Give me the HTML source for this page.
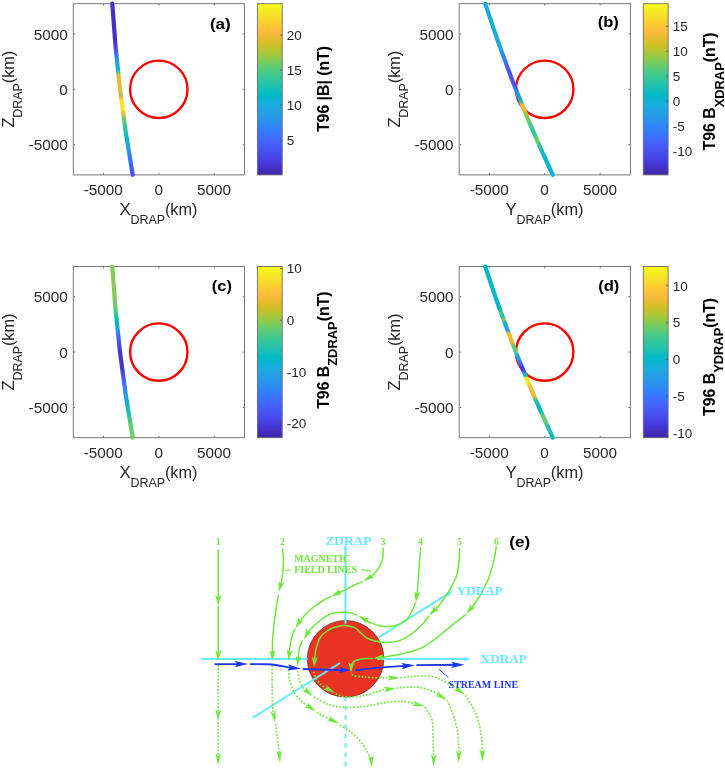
<!DOCTYPE html>
<html lang="en"><head><meta charset="utf-8"><title>T96 field along track</title>
<style>
html,body{margin:0;padding:0;background:#fff}
svg{display:block}
text{font-family:"Liberation Sans",sans-serif;fill:#262626}
.tk{font-size:15.3px}
.ck{font-size:13.5px}
.lb{font-size:16.8px}
.sb{font-size:13.4px}
.cl{font-size:15.8px;font-weight:bold;fill:#000}
.cs{font-size:12.9px}
.lt{font-weight:bold;font-size:15.4px;fill:#000}
.gt{font-family:"Liberation Serif",serif;font-weight:bold;fill:#6ee83c}
.ct{font-family:"Liberation Serif",serif;font-weight:bold;fill:#66ecfc}
.bt{font-family:"Liberation Serif",serif;font-weight:bold;fill:#1c38ee}
</style></head>
<body>
<svg width="725" height="769" viewBox="0 0 725 769">
<defs><linearGradient id="cba" gradientUnits="userSpaceOnUse" x1="0" y1="3.7" x2="0" y2="174.9"><stop offset="0.0000" stop-color="#f9fb15"/><stop offset="0.0312" stop-color="#f6ef20"/><stop offset="0.0625" stop-color="#f5e327"/><stop offset="0.0938" stop-color="#f9d62d"/><stop offset="0.1250" stop-color="#feca33"/><stop offset="0.1562" stop-color="#febe3c"/><stop offset="0.1875" stop-color="#f1ba37"/><stop offset="0.2188" stop-color="#debc2a"/><stop offset="0.2500" stop-color="#c8c129"/><stop offset="0.2812" stop-color="#afc637"/><stop offset="0.3125" stop-color="#94ca4a"/><stop offset="0.3438" stop-color="#77cc60"/><stop offset="0.3750" stop-color="#5ccc76"/><stop offset="0.4062" stop-color="#44ca8a"/><stop offset="0.4375" stop-color="#34c79c"/><stop offset="0.4688" stop-color="#28c2ab"/><stop offset="0.5000" stop-color="#12beb9"/><stop offset="0.5312" stop-color="#01b9c6"/><stop offset="0.5625" stop-color="#0cb3d3"/><stop offset="0.5938" stop-color="#1aacdd"/><stop offset="0.6250" stop-color="#21a3e3"/><stop offset="0.6562" stop-color="#269ae9"/><stop offset="0.6875" stop-color="#2c90f0"/><stop offset="0.7188" stop-color="#2e85f8"/><stop offset="0.7500" stop-color="#347afd"/><stop offset="0.7812" stop-color="#3f6efe"/><stop offset="0.8125" stop-color="#4562fc"/><stop offset="0.8438" stop-color="#4757f7"/><stop offset="0.8750" stop-color="#484cef"/><stop offset="0.9062" stop-color="#4741e5"/><stop offset="0.9375" stop-color="#4536d5"/><stop offset="0.9688" stop-color="#422ebf"/><stop offset="1.0000" stop-color="#3e26a8"/></linearGradient>
<linearGradient id="tra" gradientUnits="userSpaceOnUse" x1="0" y1="3.7" x2="0" y2="174.9"><stop offset="0.0000" stop-color="#4330c5"/><stop offset="0.2100" stop-color="#4330c5"/><stop offset="0.2500" stop-color="#4743e7"/><stop offset="0.2900" stop-color="#4367fd"/><stop offset="0.3300" stop-color="#249fe6"/><stop offset="0.3850" stop-color="#15afd9"/><stop offset="0.4000" stop-color="#48cb86"/><stop offset="0.4200" stop-color="#eaba31"/><stop offset="0.5200" stop-color="#eaba31"/><stop offset="0.5300" stop-color="#8dcb4f"/><stop offset="0.5500" stop-color="#f5ba3a"/><stop offset="0.5700" stop-color="#f5e825"/><stop offset="0.6200" stop-color="#f5e825"/><stop offset="0.6400" stop-color="#f5ba3a"/><stop offset="0.6700" stop-color="#71cd64"/><stop offset="0.7200" stop-color="#33c69d"/><stop offset="0.8000" stop-color="#05b6ce"/><stop offset="0.8500" stop-color="#249fe6"/><stop offset="0.9000" stop-color="#3876fe"/><stop offset="1.0000" stop-color="#484aee"/></linearGradient>
<linearGradient id="cbb" gradientUnits="userSpaceOnUse" x1="0" y1="3.7" x2="0" y2="174.9"><stop offset="0.0000" stop-color="#f9fb15"/><stop offset="0.0312" stop-color="#f6ef20"/><stop offset="0.0625" stop-color="#f5e327"/><stop offset="0.0938" stop-color="#f9d62d"/><stop offset="0.1250" stop-color="#feca33"/><stop offset="0.1562" stop-color="#febe3c"/><stop offset="0.1875" stop-color="#f1ba37"/><stop offset="0.2188" stop-color="#debc2a"/><stop offset="0.2500" stop-color="#c8c129"/><stop offset="0.2812" stop-color="#afc637"/><stop offset="0.3125" stop-color="#94ca4a"/><stop offset="0.3438" stop-color="#77cc60"/><stop offset="0.3750" stop-color="#5ccc76"/><stop offset="0.4062" stop-color="#44ca8a"/><stop offset="0.4375" stop-color="#34c79c"/><stop offset="0.4688" stop-color="#28c2ab"/><stop offset="0.5000" stop-color="#12beb9"/><stop offset="0.5312" stop-color="#01b9c6"/><stop offset="0.5625" stop-color="#0cb3d3"/><stop offset="0.5938" stop-color="#1aacdd"/><stop offset="0.6250" stop-color="#21a3e3"/><stop offset="0.6562" stop-color="#269ae9"/><stop offset="0.6875" stop-color="#2c90f0"/><stop offset="0.7188" stop-color="#2e85f8"/><stop offset="0.7500" stop-color="#347afd"/><stop offset="0.7812" stop-color="#3f6efe"/><stop offset="0.8125" stop-color="#4562fc"/><stop offset="0.8438" stop-color="#4757f7"/><stop offset="0.8750" stop-color="#484cef"/><stop offset="0.9062" stop-color="#4741e5"/><stop offset="0.9375" stop-color="#4536d5"/><stop offset="0.9688" stop-color="#422ebf"/><stop offset="1.0000" stop-color="#3e26a8"/></linearGradient>
<linearGradient id="trb" gradientUnits="userSpaceOnUse" x1="0" y1="3.7" x2="0" y2="174.9"><stop offset="0.0000" stop-color="#19addc"/><stop offset="0.2500" stop-color="#1caadf"/><stop offset="0.3100" stop-color="#2e85f8"/><stop offset="0.3800" stop-color="#4755f6"/><stop offset="0.4700" stop-color="#4755f6"/><stop offset="0.5200" stop-color="#2d8cf3"/><stop offset="0.5600" stop-color="#05b6ce"/><stop offset="0.5800" stop-color="#48cb86"/><stop offset="0.5900" stop-color="#eaba31"/><stop offset="0.6200" stop-color="#eaba31"/><stop offset="0.6350" stop-color="#9fc942"/><stop offset="0.6900" stop-color="#68cd6b"/><stop offset="0.7200" stop-color="#37c898"/><stop offset="0.7700" stop-color="#37c898"/><stop offset="0.7900" stop-color="#68cd6b"/><stop offset="0.8100" stop-color="#58cc79"/><stop offset="0.8500" stop-color="#21c1b0"/><stop offset="0.9000" stop-color="#05b6ce"/><stop offset="1.0000" stop-color="#0ab4d2"/></linearGradient>
<linearGradient id="cbc" gradientUnits="userSpaceOnUse" x1="0" y1="266.5" x2="0" y2="437.7"><stop offset="0.0000" stop-color="#f9fb15"/><stop offset="0.0312" stop-color="#f6ef20"/><stop offset="0.0625" stop-color="#f5e327"/><stop offset="0.0938" stop-color="#f9d62d"/><stop offset="0.1250" stop-color="#feca33"/><stop offset="0.1562" stop-color="#febe3c"/><stop offset="0.1875" stop-color="#f1ba37"/><stop offset="0.2188" stop-color="#debc2a"/><stop offset="0.2500" stop-color="#c8c129"/><stop offset="0.2812" stop-color="#afc637"/><stop offset="0.3125" stop-color="#94ca4a"/><stop offset="0.3438" stop-color="#77cc60"/><stop offset="0.3750" stop-color="#5ccc76"/><stop offset="0.4062" stop-color="#44ca8a"/><stop offset="0.4375" stop-color="#34c79c"/><stop offset="0.4688" stop-color="#28c2ab"/><stop offset="0.5000" stop-color="#12beb9"/><stop offset="0.5312" stop-color="#01b9c6"/><stop offset="0.5625" stop-color="#0cb3d3"/><stop offset="0.5938" stop-color="#1aacdd"/><stop offset="0.6250" stop-color="#21a3e3"/><stop offset="0.6562" stop-color="#269ae9"/><stop offset="0.6875" stop-color="#2c90f0"/><stop offset="0.7188" stop-color="#2e85f8"/><stop offset="0.7500" stop-color="#347afd"/><stop offset="0.7812" stop-color="#3f6efe"/><stop offset="0.8125" stop-color="#4562fc"/><stop offset="0.8438" stop-color="#4757f7"/><stop offset="0.8750" stop-color="#484cef"/><stop offset="0.9062" stop-color="#4741e5"/><stop offset="0.9375" stop-color="#4536d5"/><stop offset="0.9688" stop-color="#422ebf"/><stop offset="1.0000" stop-color="#3e26a8"/></linearGradient>
<linearGradient id="trc" gradientUnits="userSpaceOnUse" x1="0" y1="266.5" x2="0" y2="437.7"><stop offset="0.0000" stop-color="#84cc56"/><stop offset="0.1800" stop-color="#84cc56"/><stop offset="0.2700" stop-color="#48cb86"/><stop offset="0.3100" stop-color="#04bbc2"/><stop offset="0.3600" stop-color="#15afd9"/><stop offset="0.4000" stop-color="#3f6eff"/><stop offset="0.4600" stop-color="#484aee"/><stop offset="0.5000" stop-color="#4433cc"/><stop offset="0.6000" stop-color="#4536d3"/><stop offset="0.6400" stop-color="#4755f6"/><stop offset="0.6900" stop-color="#3f6eff"/><stop offset="0.7500" stop-color="#2699ea"/><stop offset="0.8000" stop-color="#15afd9"/><stop offset="0.8600" stop-color="#21c1b0"/><stop offset="0.9100" stop-color="#58cc79"/><stop offset="1.0000" stop-color="#71cd64"/></linearGradient>
<linearGradient id="cbd" gradientUnits="userSpaceOnUse" x1="0" y1="266.5" x2="0" y2="437.7"><stop offset="0.0000" stop-color="#f9fb15"/><stop offset="0.0312" stop-color="#f6ef20"/><stop offset="0.0625" stop-color="#f5e327"/><stop offset="0.0938" stop-color="#f9d62d"/><stop offset="0.1250" stop-color="#feca33"/><stop offset="0.1562" stop-color="#febe3c"/><stop offset="0.1875" stop-color="#f1ba37"/><stop offset="0.2188" stop-color="#debc2a"/><stop offset="0.2500" stop-color="#c8c129"/><stop offset="0.2812" stop-color="#afc637"/><stop offset="0.3125" stop-color="#94ca4a"/><stop offset="0.3438" stop-color="#77cc60"/><stop offset="0.3750" stop-color="#5ccc76"/><stop offset="0.4062" stop-color="#44ca8a"/><stop offset="0.4375" stop-color="#34c79c"/><stop offset="0.4688" stop-color="#28c2ab"/><stop offset="0.5000" stop-color="#12beb9"/><stop offset="0.5312" stop-color="#01b9c6"/><stop offset="0.5625" stop-color="#0cb3d3"/><stop offset="0.5938" stop-color="#1aacdd"/><stop offset="0.6250" stop-color="#21a3e3"/><stop offset="0.6562" stop-color="#269ae9"/><stop offset="0.6875" stop-color="#2c90f0"/><stop offset="0.7188" stop-color="#2e85f8"/><stop offset="0.7500" stop-color="#347afd"/><stop offset="0.7812" stop-color="#3f6efe"/><stop offset="0.8125" stop-color="#4562fc"/><stop offset="0.8438" stop-color="#4757f7"/><stop offset="0.8750" stop-color="#484cef"/><stop offset="0.9062" stop-color="#4741e5"/><stop offset="0.9375" stop-color="#4536d5"/><stop offset="0.9688" stop-color="#422ebf"/><stop offset="1.0000" stop-color="#3e26a8"/></linearGradient>
<linearGradient id="trd" gradientUnits="userSpaceOnUse" x1="0" y1="266.5" x2="0" y2="437.7"><stop offset="0.0000" stop-color="#01b8ca"/><stop offset="0.2500" stop-color="#01b8ca"/><stop offset="0.2700" stop-color="#48cb86"/><stop offset="0.2900" stop-color="#12beb9"/><stop offset="0.3100" stop-color="#7acc5d"/><stop offset="0.3300" stop-color="#1caadf"/><stop offset="0.3750" stop-color="#20a4e3"/><stop offset="0.3900" stop-color="#eaba31"/><stop offset="0.4400" stop-color="#eaba31"/><stop offset="0.4600" stop-color="#68cd6b"/><stop offset="0.5000" stop-color="#58cc79"/><stop offset="0.5200" stop-color="#1caadf"/><stop offset="0.5600" stop-color="#347afd"/><stop offset="0.5900" stop-color="#4536d3"/><stop offset="0.6100" stop-color="#4743e7"/><stop offset="0.6250" stop-color="#15afd9"/><stop offset="0.6400" stop-color="#12beb9"/><stop offset="0.6500" stop-color="#f5e825"/><stop offset="0.6800" stop-color="#f5e825"/><stop offset="0.7000" stop-color="#f5ba3a"/><stop offset="0.7600" stop-color="#eaba31"/><stop offset="0.7800" stop-color="#2fc5a2"/><stop offset="0.8200" stop-color="#01b8ca"/><stop offset="0.8500" stop-color="#04bbc2"/><stop offset="0.8700" stop-color="#68cd6b"/><stop offset="0.9100" stop-color="#58cc79"/><stop offset="0.9300" stop-color="#2cc4a7"/><stop offset="1.0000" stop-color="#12beb9"/></linearGradient></defs>
<rect width="725" height="769" fill="#fff"/>
<g>
<rect x="73.30" y="3.70" width="171.20" height="171.20" fill="#fff" stroke="#6a6a6a" stroke-width="0.9"/>
<path d="M103.50 174.90v-1.9M103.50 3.70v1.9M73.30 144.70h1.9M244.50 144.70h-1.9M158.90 174.90v-1.9M158.90 3.70v1.9M73.30 89.30h1.9M244.50 89.30h-1.9M214.30 174.90v-1.9M214.30 3.70v1.9M73.30 33.90h1.9M244.50 33.90h-1.9" stroke="#6a6a6a" stroke-width="0.9" fill="none"/>
<text class="tk" x="103.30" y="195.30" text-anchor="middle">-5000</text>
<text class="tk" x="67.70" y="150.30" text-anchor="end">-5000</text>
<text class="tk" x="158.70" y="195.30" text-anchor="middle">0</text>
<text class="tk" x="67.70" y="94.90" text-anchor="end">0</text>
<text class="tk" x="214.10" y="195.30" text-anchor="middle">5000</text>
<text class="tk" x="67.70" y="39.50" text-anchor="end">5000</text>
<text class="lb" y="215.40"><tspan x="119.60">X</tspan><tspan class="sb" x="130.50" dy="8.3" textLength="34.6" lengthAdjust="spacingAndGlyphs">DRAP</tspan><tspan x="164.90" dy="-8.3" textLength="32.6" lengthAdjust="spacingAndGlyphs">(km)</tspan></text>
<text class="lb" transform="translate(13.90 89.30) rotate(-90)" y="0"><tspan x="-38.3">Z</tspan><tspan class="sb" x="-28.4" dy="8.3" textLength="34.6" lengthAdjust="spacingAndGlyphs">DRAP</tspan><tspan x="6.0" dy="-8.3" textLength="32.6" lengthAdjust="spacingAndGlyphs">(km)</tspan></text>
<circle cx="158.80" cy="89.30" r="28.7" fill="none" stroke="#f00" stroke-width="2.4"/>
<path d="M112.30 3.70Q117.50 89.20 132.70 174.80" fill="none" stroke="url(#tra)" stroke-width="4.2" stroke-linecap="round"/>
<text class="lt" x="209.90" y="28.90" textLength="20.9" lengthAdjust="spacingAndGlyphs">(a)</text>
<rect x="257.40" y="3.70" width="24.80" height="171.20" fill="url(#cba)" stroke="#6a6a6a" stroke-width="0.9"/>
<text class="ck" x="286.80" y="144.86">5</text>
<text class="ck" x="286.80" y="109.92">10</text>
<text class="ck" x="286.80" y="74.98">15</text>
<text class="ck" x="286.80" y="40.04">20</text>
<path d="M282.20 139.96h-2.2M282.20 105.02h-2.2M282.20 70.08h-2.2M282.20 35.14h-2.2" stroke="#555" stroke-width="0.8" fill="none"/>
<text class="cl" transform="translate(328.50 89.00) rotate(-90)" text-anchor="middle" x="0" y="0">T96 |B| (nT)</text>
</g>
<g>
<rect x="459.20" y="3.70" width="171.20" height="171.20" fill="#fff" stroke="#6a6a6a" stroke-width="0.9"/>
<path d="M489.40 174.90v-1.9M489.40 3.70v1.9M459.20 144.70h1.9M630.40 144.70h-1.9M544.80 174.90v-1.9M544.80 3.70v1.9M459.20 89.30h1.9M630.40 89.30h-1.9M600.20 174.90v-1.9M600.20 3.70v1.9M459.20 33.90h1.9M630.40 33.90h-1.9" stroke="#6a6a6a" stroke-width="0.9" fill="none"/>
<text class="tk" x="489.20" y="195.30" text-anchor="middle">-5000</text>
<text class="tk" x="453.60" y="150.30" text-anchor="end">-5000</text>
<text class="tk" x="544.60" y="195.30" text-anchor="middle">0</text>
<text class="tk" x="453.60" y="94.90" text-anchor="end">0</text>
<text class="tk" x="600.00" y="195.30" text-anchor="middle">5000</text>
<text class="tk" x="453.60" y="39.50" text-anchor="end">5000</text>
<text class="lb" y="215.40"><tspan x="505.50">Y</tspan><tspan class="sb" x="516.40" dy="8.3" textLength="34.6" lengthAdjust="spacingAndGlyphs">DRAP</tspan><tspan x="550.80" dy="-8.3" textLength="32.6" lengthAdjust="spacingAndGlyphs">(km)</tspan></text>
<text class="lb" transform="translate(399.80 89.30) rotate(-90)" y="0"><tspan x="-38.3">Z</tspan><tspan class="sb" x="-28.4" dy="8.3" textLength="34.6" lengthAdjust="spacingAndGlyphs">DRAP</tspan><tspan x="6.0" dy="-8.3" textLength="32.6" lengthAdjust="spacingAndGlyphs">(km)</tspan></text>
<circle cx="544.70" cy="89.30" r="28.7" fill="none" stroke="#f00" stroke-width="2.4"/>
<path d="M485.20 3.70Q512.70 89.30 552.80 174.90" fill="none" stroke="url(#trb)" stroke-width="4.2" stroke-linecap="round"/>
<text class="lt" x="597.70" y="27.10" textLength="21.2" lengthAdjust="spacingAndGlyphs">(b)</text>
<rect x="643.30" y="3.70" width="24.80" height="171.20" fill="url(#cbb)" stroke="#6a6a6a" stroke-width="0.9"/>
<text class="ck" x="672.70" y="155.88">-10</text>
<text class="ck" x="672.70" y="130.97">-5</text>
<text class="ck" x="672.70" y="106.06">0</text>
<text class="ck" x="672.70" y="81.15">5</text>
<text class="ck" x="672.70" y="56.23">10</text>
<text class="ck" x="672.70" y="31.32">15</text>
<path d="M668.10 150.98h-2.2M668.10 126.07h-2.2M668.10 101.16h-2.2M668.10 76.25h-2.2M668.10 51.33h-2.2M668.10 26.42h-2.2" stroke="#555" stroke-width="0.8" fill="none"/>
<text class="cl" transform="translate(715.20 150.40) rotate(-90)" x="0" y="0">T96 B<tspan class="cs" dy="8.3">XDRAP</tspan><tspan dy="-8.3">(nT)</tspan></text>
</g>
<g>
<rect x="73.30" y="266.50" width="171.20" height="171.20" fill="#fff" stroke="#6a6a6a" stroke-width="0.9"/>
<path d="M103.50 437.70v-1.9M103.50 266.50v1.9M73.30 407.50h1.9M244.50 407.50h-1.9M158.90 437.70v-1.9M158.90 266.50v1.9M73.30 352.10h1.9M244.50 352.10h-1.9M214.30 437.70v-1.9M214.30 266.50v1.9M73.30 296.70h1.9M244.50 296.70h-1.9" stroke="#6a6a6a" stroke-width="0.9" fill="none"/>
<text class="tk" x="103.30" y="458.10" text-anchor="middle">-5000</text>
<text class="tk" x="67.70" y="413.10" text-anchor="end">-5000</text>
<text class="tk" x="158.70" y="458.10" text-anchor="middle">0</text>
<text class="tk" x="67.70" y="357.70" text-anchor="end">0</text>
<text class="tk" x="214.10" y="458.10" text-anchor="middle">5000</text>
<text class="tk" x="67.70" y="302.30" text-anchor="end">5000</text>
<text class="lb" y="478.20"><tspan x="119.60">X</tspan><tspan class="sb" x="130.50" dy="8.3" textLength="34.6" lengthAdjust="spacingAndGlyphs">DRAP</tspan><tspan x="164.90" dy="-8.3" textLength="32.6" lengthAdjust="spacingAndGlyphs">(km)</tspan></text>
<text class="lb" transform="translate(13.90 352.10) rotate(-90)" y="0"><tspan x="-38.3">Z</tspan><tspan class="sb" x="-28.4" dy="8.3" textLength="34.6" lengthAdjust="spacingAndGlyphs">DRAP</tspan><tspan x="6.0" dy="-8.3" textLength="32.6" lengthAdjust="spacingAndGlyphs">(km)</tspan></text>
<circle cx="158.80" cy="352.10" r="28.7" fill="none" stroke="#f00" stroke-width="2.4"/>
<path d="M112.30 266.50Q117.50 352.00 132.70 437.60" fill="none" stroke="url(#trc)" stroke-width="4.2" stroke-linecap="round"/>
<text class="lt" x="211.80" y="290.80" textLength="20.1" lengthAdjust="spacingAndGlyphs">(c)</text>
<rect x="257.40" y="266.50" width="24.80" height="171.20" fill="url(#cbc)" stroke="#6a6a6a" stroke-width="0.9"/>
<text class="ck" x="286.80" y="428.16">-20</text>
<text class="ck" x="286.80" y="376.60">-10</text>
<text class="ck" x="286.80" y="325.03">0</text>
<text class="ck" x="286.80" y="273.46">10</text>
<path d="M282.20 423.26h-2.2M282.20 371.70h-2.2M282.20 320.13h-2.2M282.20 268.56h-2.2" stroke="#555" stroke-width="0.8" fill="none"/>
<text class="cl" transform="translate(329.10 408.80) rotate(-90)" x="0" y="0">T96 B<tspan class="cs" dy="8.3">ZDRAP</tspan><tspan dy="-8.3">(nT)</tspan></text>
</g>
<g>
<rect x="459.20" y="266.50" width="171.20" height="171.20" fill="#fff" stroke="#6a6a6a" stroke-width="0.9"/>
<path d="M489.40 437.70v-1.9M489.40 266.50v1.9M459.20 407.50h1.9M630.40 407.50h-1.9M544.80 437.70v-1.9M544.80 266.50v1.9M459.20 352.10h1.9M630.40 352.10h-1.9M600.20 437.70v-1.9M600.20 266.50v1.9M459.20 296.70h1.9M630.40 296.70h-1.9" stroke="#6a6a6a" stroke-width="0.9" fill="none"/>
<text class="tk" x="489.20" y="458.10" text-anchor="middle">-5000</text>
<text class="tk" x="453.60" y="413.10" text-anchor="end">-5000</text>
<text class="tk" x="544.60" y="458.10" text-anchor="middle">0</text>
<text class="tk" x="453.60" y="357.70" text-anchor="end">0</text>
<text class="tk" x="600.00" y="458.10" text-anchor="middle">5000</text>
<text class="tk" x="453.60" y="302.30" text-anchor="end">5000</text>
<text class="lb" y="478.20"><tspan x="505.50">Y</tspan><tspan class="sb" x="516.40" dy="8.3" textLength="34.6" lengthAdjust="spacingAndGlyphs">DRAP</tspan><tspan x="550.80" dy="-8.3" textLength="32.6" lengthAdjust="spacingAndGlyphs">(km)</tspan></text>
<text class="lb" transform="translate(399.80 352.10) rotate(-90)" y="0"><tspan x="-38.3">Z</tspan><tspan class="sb" x="-28.4" dy="8.3" textLength="34.6" lengthAdjust="spacingAndGlyphs">DRAP</tspan><tspan x="6.0" dy="-8.3" textLength="32.6" lengthAdjust="spacingAndGlyphs">(km)</tspan></text>
<circle cx="544.70" cy="352.10" r="28.7" fill="none" stroke="#f00" stroke-width="2.4"/>
<path d="M485.20 266.50Q512.70 352.10 552.80 437.70" fill="none" stroke="url(#trd)" stroke-width="4.2" stroke-linecap="round"/>
<text class="lt" x="598.20" y="290.80" textLength="21.2" lengthAdjust="spacingAndGlyphs">(d)</text>
<rect x="643.30" y="266.50" width="24.80" height="171.20" fill="url(#cbd)" stroke="#6a6a6a" stroke-width="0.9"/>
<text class="ck" x="672.70" y="438.17">-10</text>
<text class="ck" x="672.70" y="401.28">-5</text>
<text class="ck" x="672.70" y="364.38">0</text>
<text class="ck" x="672.70" y="327.48">5</text>
<text class="ck" x="672.70" y="290.59">10</text>
<path d="M668.10 433.27h-2.2M668.10 396.38h-2.2M668.10 359.48h-2.2M668.10 322.58h-2.2M668.10 285.69h-2.2" stroke="#555" stroke-width="0.8" fill="none"/>
<text class="cl" transform="translate(714.80 415.90) rotate(-90)" x="0" y="0">T96 B<tspan class="cs" dy="8.3">YDRAP</tspan><tspan dy="-8.3">(nT)</tspan></text>
</g>
<g id="schematic">
<circle cx="345.6" cy="658.8" r="38.3" fill="#e93424" stroke="#5c2018" stroke-width="0.7"/>
<path d="M201 659H307.6M377 659H467" stroke="#66ecfc" stroke-width="2.1" fill="none"/>
<path d="M470.6 659.1L464.2 656.9L464.2 661.3Z" fill="#66ecfc"/>
<path d="M345.5 623.6V548" stroke="#66ecfc" stroke-width="2.1" fill="none"/>
<path d="M345.5 543.6L343.5 549.6L347.5 549.6Z" fill="#66ecfc"/>
<path d="M345.5 697.3V769" stroke="#66ecfc" stroke-width="2" stroke-dasharray="4.7 4.67" stroke-dashoffset="1.1" fill="none"/>
<path d="M252.6 717.7L340 663M378.8 637.4L449.5 592.9" stroke="#66ecfc" stroke-width="2" fill="none"/>
<path d="M453 590.7L446.2 592.6L448.6 596.2Z" fill="#66ecfc"/>
<path d="M218.2 549.6L218.2 603.0M218.2 606.0L218.2 658.0M282.5 548.2C282.6 550.9 283.6 558.8 283.4 564.5C283.2 570.2 282.1 578.3 281.4 582.4C280.7 586.5 279.8 588.1 279.4 589.2M278.3 594.8C277.7 599.0 275.4 612.5 274.5 620.0C273.6 627.5 272.9 633.7 272.6 640.0C272.3 646.3 272.5 655.0 272.4 658.0M383.2 547.9C383.1 549.5 383.4 554.4 382.8 557.6C382.2 560.8 381.0 564.2 379.3 567.2C377.6 570.2 374.6 573.5 372.4 575.5C370.2 577.5 367.1 578.8 366.1 579.4M363.0 581.5C362.0 581.9 360.1 582.4 357.2 583.8C354.3 585.1 349.4 587.7 345.5 589.6C341.6 591.5 335.9 594.0 334.0 594.9M331.0 596.5C329.8 597.1 326.9 598.2 323.9 600.0C320.9 601.8 316.3 605.0 313.1 607.5C309.9 610.0 307.2 612.8 304.8 615.3C302.4 617.8 300.3 620.7 299.0 622.4C297.7 624.1 297.3 625.1 296.9 625.6M295.2 628.5C294.9 629.3 293.9 631.0 293.2 633.1C292.5 635.2 291.4 638.6 290.8 641.4C290.2 644.2 289.8 647.0 289.5 649.7C289.2 652.5 289.0 656.4 288.9 657.9C288.8 659.4 288.8 658.4 288.8 658.5M420.7 547.2C420.5 550.1 419.8 558.2 419.3 564.5C418.8 570.8 418.4 579.4 417.9 585.2C417.4 591.0 416.5 597.1 416.2 599.4M415.9 602.4C415.4 603.4 414.4 606.1 413.1 608.6C411.8 611.1 410.2 615.2 408.3 617.6C406.4 620.0 404.1 621.7 401.4 623.1C398.7 624.5 395.5 625.7 392.0 626.2C388.5 626.7 384.0 626.4 380.5 625.9C377.0 625.4 373.8 624.1 371.0 623.0C368.2 621.9 365.7 619.9 364.0 619.0C362.3 618.1 361.6 617.6 361.1 617.3M357.5 615.2C356.2 614.8 352.4 613.3 350.0 612.8C347.6 612.3 346.2 612.0 343.4 612.1C340.6 612.2 335.8 612.5 333.0 613.2C330.2 613.9 328.8 614.7 326.4 616.1C324.0 617.5 321.1 619.8 318.9 621.5C316.7 623.2 315.0 624.6 313.1 626.5C311.2 628.4 308.8 631.2 307.5 633.0C306.2 634.8 305.7 636.4 305.4 637.0M302.5 640.5C302.1 641.5 300.5 644.3 299.9 646.4C299.2 648.5 298.9 650.7 298.6 653.0C298.3 655.3 298.2 658.2 298.1 660.0C298.0 661.8 297.9 662.9 297.8 663.5M459.5 548.0C459.5 549.6 459.8 553.0 459.3 557.6C458.8 562.2 458.4 569.8 456.6 575.5C454.8 581.2 451.3 587.0 448.3 592.1C445.3 597.2 441.5 602.4 438.6 605.9C435.7 609.4 432.4 612.1 431.1 613.4M428.6 616.0C428.2 616.7 428.4 617.5 426.2 620.0C424.0 622.5 418.9 627.9 415.2 631.0C411.5 634.1 407.6 636.8 404.1 638.6C400.7 640.4 398.4 641.2 394.5 641.8C390.6 642.4 385.1 642.6 380.7 642.1C376.3 641.6 371.5 640.2 368.3 638.8C365.1 637.4 363.7 635.4 361.4 633.5C359.1 631.6 357.3 628.9 354.5 627.6C351.7 626.3 347.2 625.8 344.8 625.5C342.4 625.2 342.0 625.7 340.0 626.1C338.0 626.5 335.3 626.8 333.0 627.7C330.7 628.6 328.5 630.0 326.4 631.5C324.3 633.0 322.0 635.1 320.6 637.0C319.2 638.9 318.6 640.8 317.8 643.0C317.0 645.2 316.3 647.7 315.8 650.0C315.3 652.3 315.2 654.6 314.9 657.0C314.6 659.4 314.4 663.3 314.3 664.6M496.3 545.9C496.0 547.9 495.6 552.7 494.5 557.6C493.4 562.5 491.9 569.5 489.7 575.5C487.5 581.5 484.0 588.6 481.4 593.4C478.8 598.2 476.2 601.4 474.0 604.5C471.8 607.6 469.1 610.6 468.1 611.8M466.0 614.4C464.0 616.0 456.8 621.5 453.8 623.8C450.9 626.1 451.5 625.7 448.3 628.3C445.1 630.9 438.9 636.1 434.5 639.3C430.1 642.5 426.5 645.4 422.1 647.6C417.7 649.8 412.9 651.1 408.3 652.4C403.7 653.7 398.5 654.4 394.5 655.2C390.5 656.0 387.2 656.5 384.1 657.0C381.0 657.5 377.4 658.0 376.1 658.2M373.0 658.5C371.7 658.5 367.6 658.4 365.0 658.6C362.4 658.9 359.2 659.4 357.2 660.0C355.2 660.6 353.8 661.5 352.8 662.5C351.8 663.5 351.5 664.7 351.2 666.0C350.9 667.3 351.1 669.4 351.1 670.1" fill="none" stroke="#6ee83c" stroke-width="1.5"/>
<path d="M218.2 664.8L218.2 718.3M218.2 722.0L218.2 762.2M272.0 665.5C272.1 671.7 272.1 694.5 272.4 702.8C272.7 711.0 273.4 712.1 273.8 715.0C274.2 717.9 274.6 719.1 274.7 720.0M275.5 724.0C275.8 725.9 276.5 731.6 277.0 735.4C277.5 739.2 278.1 742.9 278.6 747.0C279.1 751.1 279.5 757.6 279.7 759.7M288.3 669.7C288.5 671.5 288.8 677.0 289.7 680.7C290.6 684.4 292.0 688.4 293.8 691.7C295.6 695.0 298.5 698.1 300.5 700.3C302.5 702.5 303.8 703.4 306.0 705.0C308.2 706.6 312.2 709.1 313.5 709.9M317.0 712.0C317.7 712.5 318.8 713.8 321.4 715.2C324.0 716.6 329.9 719.3 332.4 720.5C334.9 721.7 335.6 722.3 336.3 722.6M340.0 725.0C340.5 725.3 341.4 726.0 343.0 727.0C344.6 728.0 347.5 729.5 349.7 731.2C351.9 732.9 354.2 734.9 356.3 737.0C358.4 739.1 360.4 741.4 362.1 743.6C363.8 745.8 365.2 748.3 366.5 750.3C367.8 752.3 368.8 753.9 369.6 755.5C370.4 757.1 370.9 758.5 371.2 760.0C371.5 761.5 371.4 763.8 371.4 764.6M297.9 671.0C298.1 672.4 298.5 676.5 299.3 679.3C300.1 682.1 300.9 685.0 302.8 687.6C304.7 690.2 309.5 693.5 310.8 694.6M314.0 697.0C314.8 697.4 316.5 698.1 318.6 699.3C320.7 700.4 323.5 702.7 326.5 703.9C329.5 705.1 333.1 705.8 336.4 706.4C339.7 707.0 342.8 707.4 346.4 707.5C350.0 707.6 354.0 707.5 357.9 707.2C361.8 706.9 365.4 706.3 369.5 705.6C373.6 704.9 378.4 703.8 382.8 703.1C387.2 702.4 391.9 701.6 396.0 701.4C400.1 701.2 403.3 701.2 407.6 701.9C411.9 702.6 419.3 704.9 421.6 705.5M425.0 707.0C425.5 707.9 426.9 709.8 428.1 712.2C429.3 714.6 431.5 716.9 432.3 721.3C433.1 725.7 432.9 733.3 433.1 738.7C433.3 744.1 433.5 749.5 433.6 753.6C433.7 757.7 433.6 761.9 433.6 763.5M313.8 671.7C314.3 673.0 315.1 676.9 316.6 679.3C318.1 681.7 320.1 684.1 322.8 686.2C325.5 688.3 330.9 690.7 332.6 691.6M335.8 693.6C336.5 693.9 338.2 695.0 340.0 695.6C341.8 696.2 343.4 696.9 346.4 697.0C349.4 697.1 354.1 697.0 358.0 696.5C361.9 696.0 365.3 695.1 369.5 694.0C373.7 692.9 379.5 690.6 383.4 689.7C387.3 688.8 391.3 688.8 392.9 688.6M396.5 688.2C397.3 688.1 398.3 687.8 401.4 687.6C404.5 687.4 411.1 686.7 415.2 686.9C419.3 687.1 422.8 688.0 426.2 689.0C429.6 690.0 432.9 691.5 435.9 693.1C438.9 694.7 442.9 697.5 444.4 698.4M447.2 700.5C447.4 700.9 447.9 701.0 448.6 702.8C449.4 704.5 450.8 708.6 451.7 711.0C452.6 713.4 452.9 714.1 453.8 717.1C454.7 720.1 456.3 724.6 457.1 728.7C457.9 732.9 458.1 738.4 458.4 742.0C458.7 745.6 458.7 747.3 458.8 750.3C458.9 753.2 458.8 758.1 458.8 759.7M351.7 674.5C352.2 674.7 352.6 675.5 354.5 675.9C356.4 676.3 359.6 676.5 362.8 676.8C366.0 677.1 369.7 677.6 373.8 677.7C377.9 677.9 383.7 677.7 387.6 677.7C391.5 677.7 395.4 677.8 397.0 677.9M400.5 677.8C401.8 677.6 404.7 677.1 408.3 676.8C411.9 676.5 417.7 675.8 422.1 675.9C426.5 676.0 431.1 676.4 434.5 677.2C437.9 678.0 440.1 679.4 442.8 680.7C445.6 682.0 448.7 683.4 451.0 684.8C453.3 686.2 454.7 687.6 456.6 689.0C458.5 690.4 461.5 692.3 462.5 692.9M465.5 695.2C465.9 695.9 467.0 697.6 468.1 699.5C469.2 701.4 471.0 704.4 472.2 706.5C473.4 708.6 474.1 709.1 475.3 712.2C476.5 715.4 478.5 721.0 479.5 725.4C480.5 729.8 481.0 734.7 481.5 738.7C482.0 742.7 482.1 746.1 482.3 749.4C482.5 752.7 482.4 757.0 482.5 758.5" fill="none" stroke="#6ee83c" stroke-width="1.7" stroke-dasharray="1.7 1.75"/>
<path d="M285.2 571L290.9 569.7M361.7 569.6L371.3 571" fill="none" stroke="#6ee83c" stroke-width="1.1"/>
<path d="M218.2 606.0L215.2 595.0L218.2 597.6L221.2 595.0ZM218.2 661.0L215.2 650.0L218.2 652.6L221.2 650.0ZM278.6 592.1L278.8 580.7L280.9 584.1L284.5 582.4ZM272.4 661.0L269.5 650.0L272.5 652.6L275.5 650.0ZM363.5 581.0L371.3 572.7L370.6 576.6L374.4 577.8ZM331.3 596.2L340.0 588.8L338.9 592.7L342.5 594.3ZM295.3 628.1L298.8 617.2L299.9 621.1L303.8 620.5ZM288.6 660.8L286.7 649.5L289.5 652.5L292.7 650.2ZM415.9 602.4L414.2 591.1L416.9 594.1L420.2 591.8ZM358.5 615.8L369.5 618.7L365.7 620.0L366.5 623.9ZM304.0 639.7L306.4 628.6L307.9 632.3L311.8 631.3ZM297.6 666.5L295.5 655.3L298.2 658.2L301.4 655.8ZM429.0 615.5L434.7 605.6L434.9 609.6L438.9 609.8ZM314.0 667.6L311.9 656.4L314.7 659.3L317.9 656.9ZM466.2 614.1L470.8 603.7L471.5 607.6L475.5 607.5ZM373.1 658.6L383.6 654.0L381.4 657.4L384.4 660.0ZM351.0 673.1L348.3 662.0L351.2 664.7L354.3 662.2ZM218.2 721.3L215.3 708.9L218.2 712.1L221.0 708.9ZM218.2 765.2L215.3 752.8L218.2 756.0L221.0 752.8ZM275.3 722.9L270.2 711.2L273.6 713.9L275.8 710.2ZM280.0 762.7L276.1 750.6L279.2 753.6L281.7 750.1ZM316.0 711.5L304.1 707.1L308.3 706.5L307.2 702.4ZM338.9 724.1L326.7 720.6L330.9 719.7L329.4 715.6ZM371.5 767.6L368.2 755.3L371.1 758.4L373.9 755.1ZM313.1 696.6L301.9 690.6L306.2 690.6L305.6 686.3ZM424.5 706.3L411.8 705.9L415.6 704.0L413.2 700.4ZM433.6 766.5L430.8 754.1L433.6 757.3L436.5 754.1ZM335.2 693.1L323.0 689.6L327.2 688.6L325.8 684.6ZM395.9 688.3L383.9 692.5L386.8 689.3L383.3 686.8ZM446.9 700.0L434.9 695.8L439.1 695.1L437.9 691.0ZM458.8 762.7L455.9 750.3L458.8 753.5L461.7 750.3ZM400.0 677.9L387.6 680.5L390.8 677.8L387.6 674.9ZM465.0 694.6L453.1 690.1L457.4 689.5L456.3 685.4ZM482.5 761.5L479.4 749.1L482.3 752.3L485.1 749.1Z" fill="#6ee83c"/>
<path d="M214.5 664.1L243.2 664.1M249.9 664.1C252.6 664.1 261.5 664.1 266.0 664.3C270.5 664.5 273.3 664.7 277.0 665.2C280.7 665.7 285.1 666.9 288.3 667.4C291.5 667.9 294.7 668.1 296.0 668.2M302.8 669.0L345.3 670.2M355.2 670.3C359.3 669.8 370.9 668.4 380.0 667.6C389.1 666.8 405.0 665.9 410.0 665.5M416.4 665.1L459.6 664.7" fill="none" stroke="#1c38ee" stroke-width="1.9"/>
<path d="M248.2 664.1L234.8 667.2L237.2 664.1L234.8 661.0ZM301.0 668.7L287.4 670.4L290.1 667.6L288.0 664.3ZM350.3 670.3L339.2 673.1L341.3 670.1L339.4 666.9ZM415.0 665.2L401.8 669.2L404.0 666.0L401.4 663.0ZM464.6 664.7L451.2 667.9L453.6 664.8L451.2 661.7Z" fill="#1c38ee"/>
<path d="M438.6 669L448.4 677.5" fill="none" stroke="#1c38ee" stroke-width="0.9"/>
<text class="gt" font-size="9.6" text-anchor="middle" x="218.2" y="544.6">1</text>
<text class="gt" font-size="9.6" text-anchor="middle" x="282.5" y="544.6">2</text>
<text class="gt" font-size="9.6" text-anchor="middle" x="383.2" y="544.6">3</text>
<text class="gt" font-size="9.6" text-anchor="middle" x="420.7" y="544.6">4</text>
<text class="gt" font-size="9.6" text-anchor="middle" x="459.5" y="544.6">5</text>
<text class="gt" font-size="9.6" text-anchor="middle" x="496.3" y="544.6">6</text>
<text class="gt" font-size="10" x="294.2" y="562" textLength="55.9" lengthAdjust="spacingAndGlyphs">MAGNETIC</text>
<text class="gt" font-size="10" x="294.2" y="573.4" textLength="62.8" lengthAdjust="spacingAndGlyphs">FIELD LINES</text>
<text class="ct" font-size="13" x="325.5" y="545.4" textLength="45.8" lengthAdjust="spacingAndGlyphs">ZDRAP</text>
<text class="ct" font-size="13" x="456.8" y="594.6" textLength="46" lengthAdjust="spacingAndGlyphs">YDRAP</text>
<text class="ct" font-size="13" x="480.6" y="662.7" textLength="46.3" lengthAdjust="spacingAndGlyphs">XDRAP</text>
<text class="bt" font-size="10" x="448.6" y="687.9" textLength="69.5" lengthAdjust="spacingAndGlyphs">STREAM LINE</text>
<text class="lt" x="509.2" y="546.6" textLength="20.9" lengthAdjust="spacingAndGlyphs">(e)</text>
</g>
</svg>
</body></html>
